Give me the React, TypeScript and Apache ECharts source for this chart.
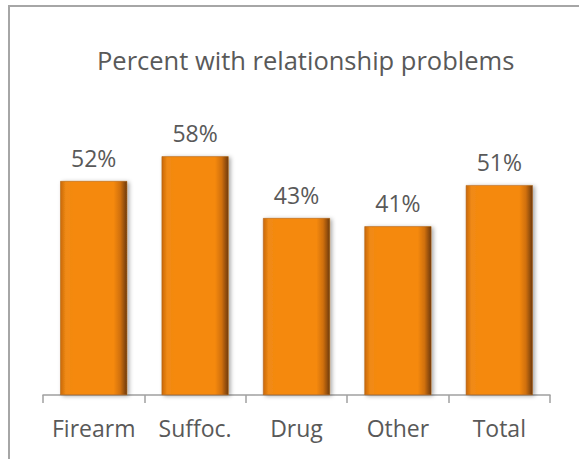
import React, { useEffect, useRef } from "react";
import * as echarts from "echarts";

const categories = ["Firearm", "Suffoc.", "Drug", "Other", "Total"];
const values = [52, 58, 43, 41, 51];
const titleText = "Percent with relationship problems";

export default function App() {
  const ref = useRef<HTMLDivElement>(null);
  useEffect(() => {
    const chart = echarts.init(ref.current!, null, { renderer: "svg" });
    const font = "'Open Sans', sans-serif";
    chart.setOption({
      animation: false,
      backgroundColor: "#ffffff",
      title: {
        text: titleText,
        left: 92,
        top: 42,
        textStyle: { fontFamily: font, fontSize: 25.5, fontWeight: "normal", color: "#595959" },
      },
      graphic: [
        {
          type: "rect",
          shape: { x: 9, y: 6, width: 620, height: 500 },
          style: { fill: "none", stroke: "#a6a6a6", lineWidth: 2 },
          silent: true,
        },
      ],
      grid: { left: 43, right: 29, top: 107, bottom: 64 },
      xAxis: {
        type: "category",
        data: categories,
        axisLine: { lineStyle: { color: "#a0a0a0", width: 1.5 } },
        axisTick: { show: true, interval: 0, length: 8, lineStyle: { color: "#a0a0a0", width: 1.5 } },
        axisLabel: { interval: 0, fontFamily: font, fontSize: 23, color: "#595959", margin: 21 },
      },
      yAxis: { type: "value", min: 0, max: 70, show: false, splitLine: { show: false } },
      series: [
        {
          type: "bar",
          data: values,
          barCategoryGap: "34%",
          label: {
            show: true,
            position: "top",
            distance: 12,
            formatter: "{c}%",
            fontFamily: font,
            fontSize: 23,
            color: "#595959",
          },
          itemStyle: {
            color: new echarts.graphic.LinearGradient(0, 0, 1, 0, [
              { offset: 0, color: "#c9680a" },
              { offset: 0.08, color: "#f08a14" },
              { offset: 0.2, color: "#f5890f" },
              { offset: 0.8, color: "#f5890f" },
              { offset: 0.9, color: "#d0700c" },
              { offset: 1, color: "#6e3a08" },
            ]),
            borderColor: "#a85a0a",
            borderWidth: 0.5,
            shadowColor: "rgba(0,0,0,0.35)",
            shadowBlur: 4,
            shadowOffsetX: 2,
            shadowOffsetY: 1,
          },
        },
      ],
    });
    return () => chart.dispose();
  }, []);
  return (
    <div
      ref={ref}
      style={{ position: "fixed", left: 0, top: 0, width: 579, height: 459 }}
    />
  );
}
